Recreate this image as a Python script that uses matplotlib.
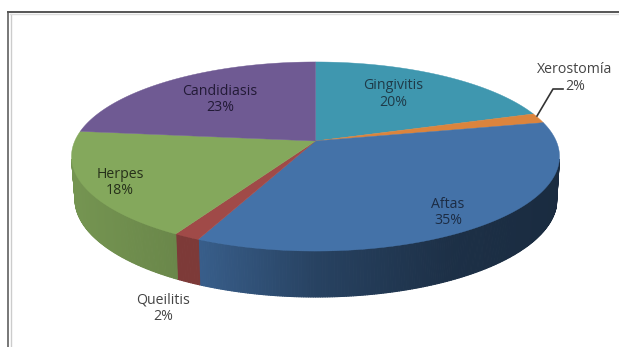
import numpy as np
import matplotlib
matplotlib.use("Agg")
import matplotlib.pyplot as plt

names = ["Gingivitis", "Xerostomía", "Aftas", "Queilitis", "Herpes", "Candidiasis"]
values = [20.0, 1.7, 35.1, 1.5, 18.4, 23.3]
colors = ["#3F97AF", "#DB843D", "#4472A8", "#A04A48", "#84A85C", "#6F5A93"]
# label centres, pixels
label_x = [393, 575, 448, 163, 120, 220]
label_y = [94, 78, 212.5, 308.5, 182.5, 99.5]
label_col = ["#1f3a48", "#444444", "#1c2c44", "#444444", "#26301a", "#221a36"]

plt.rcParams["font.family"] = ["Open Sans", "DejaVu Sans"]

fig = plt.figure(figsize=(6.19, 3.47), dpi=100)
ax = fig.add_axes([0, 0, 1, 1])
ax.set_xlim(0, 619)
ax.set_ylim(347, 0)
ax.axis("off")

# perspective of the tilted disc
cx, cy = 315.5, 141
p, a, b = 0.164, 240.7, 92.0


def rim(theta):
    u, v = np.sin(theta), np.cos(theta)
    w = 1 + p * v
    return cx + a * u / w, cy - b * v / w


def lower(x):
    dx = np.clip((x - 316) * 241 / 244, -241, 241)
    return 316 + dx, 199 + 98 * np.sqrt(1 - (dx / 241) ** 2)


def shade(c, f):
    r = matplotlib.colors.to_rgb(c)
    return tuple(k * f for k in r)


edges = np.cumsum([0] + values) / sum(values) * 2 * np.pi

# side wall first, small strips so it gets the gradient
for i, c in enumerate(colors):
    t = np.linspace(edges[i], edges[i + 1], max(int((edges[i + 1] - edges[i]) * 120), 4))
    xs, ys = rim(t)
    for j in range(len(t) - 1):
        if ys[j] < 160 and ys[j + 1] < 160:
            continue
        lx, ly = lower(xs[j:j + 2])
        f = np.interp((xs[j] + xs[j + 1]) / 2, [78, 180, 200, 315, 450, 560], [0.88, 0.8, 0.82, 0.58, 0.42, 0.38])
        if i == 3:
            f = 0.78
        col = shade(c, f)
        ax.fill([xs[j], xs[j + 1], lx[1], lx[0]], [ys[j], ys[j + 1], ly[1], ly[0]],
                facecolor=col, edgecolor=col, lw=0.8, joinstyle="round")

# top of the pie
for i, c in enumerate(colors):
    t = np.linspace(edges[i], edges[i + 1], 120)
    xs, ys = rim(t)
    ax.fill(np.r_[cx, xs], np.r_[cy, ys], color=c, lw=0.3)

for i in range(len(names)):
    txt = "%s\n%.0f%%" % (names[i], values[i])
    ax.text(label_x[i], label_y[i], txt, ha="center", va="center", fontsize=10.2,
            color=label_col[i], linespacing=1.15)

# leader for Xerostomia
ax.plot([537, 553, 563], [116, 89, 89], color="#333333", lw=1.2)

# frame of the screenshot
ax.plot([8, 8], [12, 347], color="#777777", lw=1.4)
ax.plot([8, 619], [12, 12], color="#555555", lw=1.4)
ax.plot([10.5, 10.5], [14, 347], color="#cccccc", lw=1.0)
ax.plot([10, 619], [14, 14], color="#dddddd", lw=1.0)

fig.savefig("out.png", dpi=100)
